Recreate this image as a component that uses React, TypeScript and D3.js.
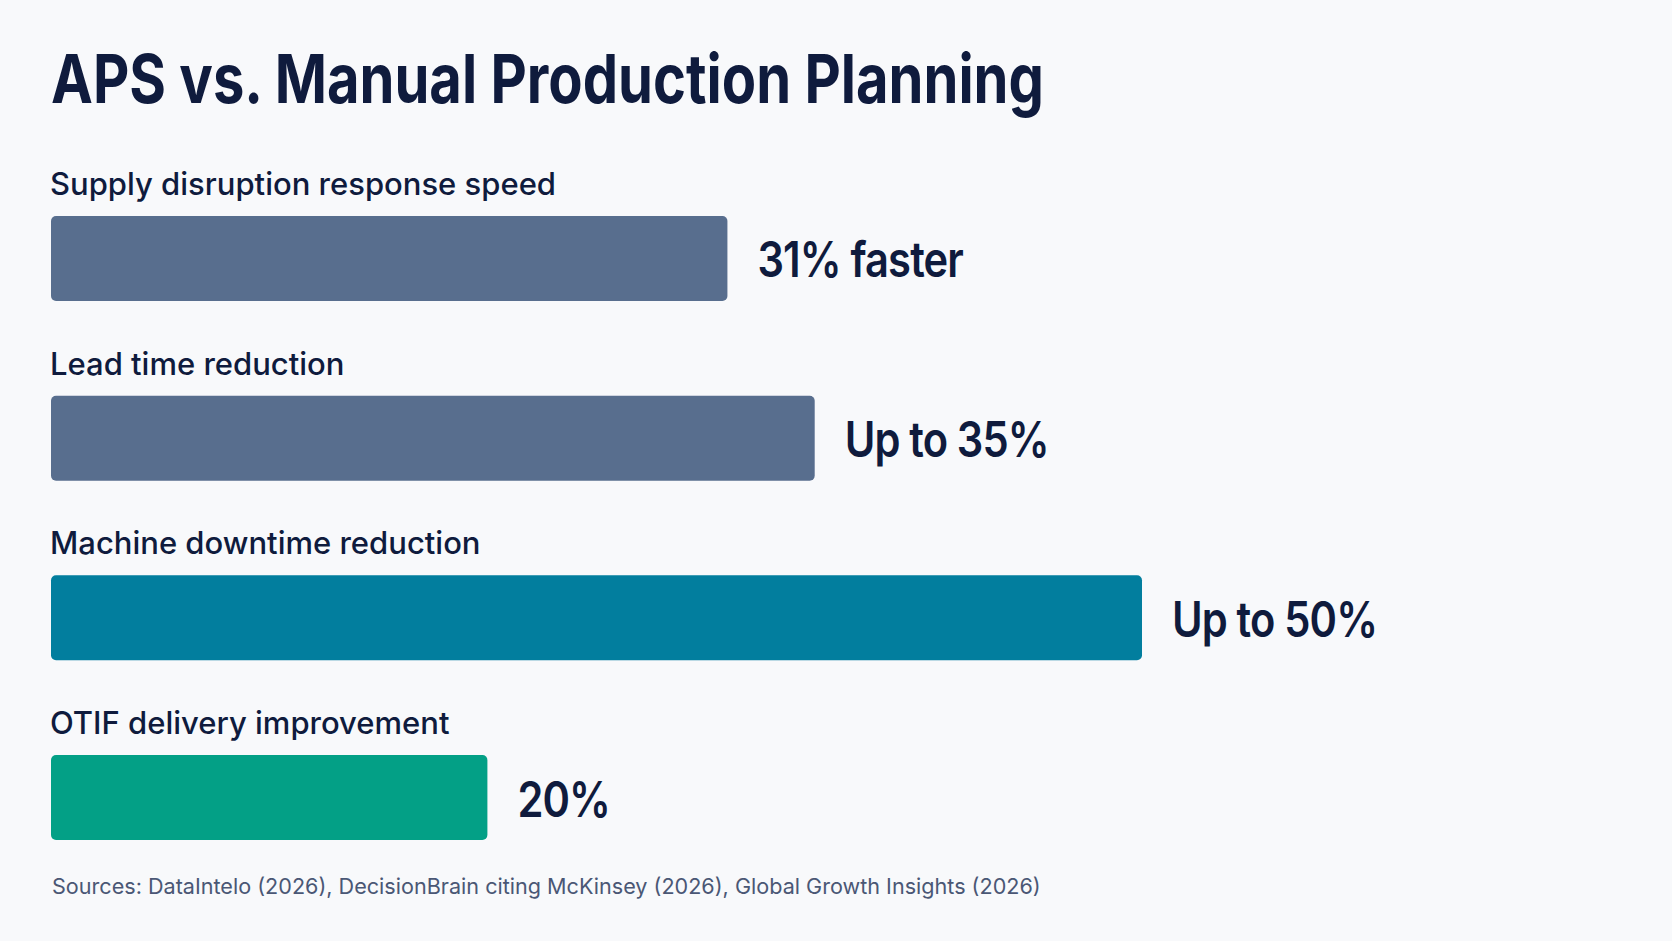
import React, { useEffect, useRef } from 'react';
import * as d3 from 'd3';

const categories = [
  'Supply disruption response speed',
  'Lead time reduction',
  'Machine downtime reduction',
  'OTIF delivery improvement',
];
const values = [31, 35, 50, 20];
const valueLabels = ['31% faster', 'Up to 35%', 'Up to 50%', '20%'];
const barColors = ['#586e8e', '#586e8e', '#027e9e', '#03a086'];

const title = 'APS vs. Manual Production Planning';
const sources =
  'Sources: DataIntelo (2026), DecisionBrain citing McKinsey (2026), Global Growth Insights (2026)';

export default function App() {
  const svgRef = useRef<SVGSVGElement>(null);

  useEffect(() => {
    if (!svgRef.current) return;
    document.body.style.margin = '0';
    document.body.style.background = '#f8f9fb';

    const width = 1672;
    const height = 941;
    const left = 51;
    const ink = '#0f1b3d';

    const svg = d3.select(svgRef.current)
      .attr('width', width)
      .attr('height', height)
      .attr('viewBox', [0, 0, width, height].join(' '))
      .style('font-family', 'Inter, "Noto Sans", sans-serif');

    svg.selectAll('*').remove();

    svg.append('rect')
      .attr('width', width)
      .attr('height', height)
      .attr('fill', '#f8f9fb');

    svg.append('text')
      .attr('x', left)
      .attr('y', 103)
      .attr('fill', ink)
      .style('font-size', '68px')
      .style('font-weight', 700)
      .attr('textLength', 993)
      .attr('lengthAdjust', 'spacingAndGlyphs')
      .text(title);

    const x = d3.scaleLinear().domain([0, 50]).range([0, 1091]);
    const y = d3.scaleBand<number>()
      .domain(d3.range(categories.length))
      .range([216, 840])
      .paddingInner(0.527)
      .paddingOuter(0);

    const row = svg.selectAll('.row')
      .data(categories)
      .enter().append('g')
      .attr('class', 'row');

    row.append('text')
      .attr('x', left - 1)
      .attr('y', (_, i) => (y(i) as number) - 21)
      .attr('fill', ink)
      .style('font-size', '31px')
      .style('font-weight', 500)
      .text(d => d);

    row.append('rect')
      .attr('x', left)
      .attr('y', (_, i) => y(i) as number)
      .attr('width', (_, i) => x(values[i]))
      .attr('height', y.bandwidth())
      .attr('rx', 5)
      .attr('fill', (_, i) => barColors[i]);

    // value labels: tall and a touch condensed
    row.append('text')
      .attr('x', (_, i) => left + x(values[i]) + 30)
      .attr('y', (_, i) => (y(i) as number) + y.bandwidth() / 2 + 19)
      .attr('fill', ink)
      .style('font-size', '49px')
      .style('font-weight', 600)
      .style('letter-spacing', '-1px')
      .text((_, i) => valueLabels[i])
      .each(function () {
        const t = this as SVGTextElement;
        const len = t.getComputedTextLength();
        t.setAttribute('textLength', String(len * 0.85));
        t.setAttribute('lengthAdjust', 'spacingAndGlyphs');
      });

    svg.append('text')
      .attr('x', left + 1)
      .attr('y', 894)
      .attr('fill', '#4a5775')
      .style('font-size', '21.6px')
      .text(sources);
  }, []);

  return <svg ref={svgRef} style={{ display: 'block' }}></svg>;
}
